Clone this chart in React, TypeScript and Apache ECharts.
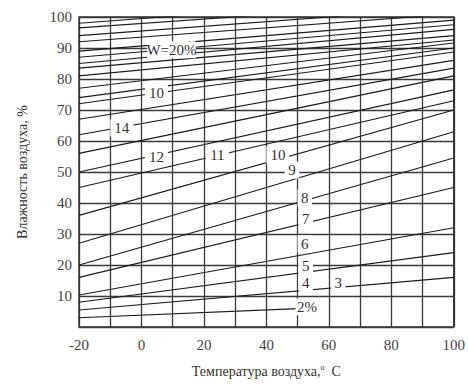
import React, { useEffect, useRef } from "react";
import * as echarts from "echarts";

// Equilibrium moisture lines: humidity (%) at -20 °C (left edge) and at 100 °C (right edge)
const lineNames = ["2", "3", "4", "5", "6", "7", "8", "9", "10", "11", "12", "13", "14", "15", "16", "17", "18", "19", "20", "21", "22", "23", "24", "25", "26"];
const leftHum = [3, 5.5, 8, 10.3, 16, 20, 27, 36, 45, 50, 56, 62, 67, 72, 74, 77, 81, 83.5, 85, 87, 89, 92, 94, 96.5, 98];
const rightHum = [8, 16, 24, 32, 45, 54.5, 63, 70, 73, 76.5, 81, 83.5, 86, 88.7, 90, 91.6, 92.6, 94, 96, 97.5, 99, 101, 103, 105, 107];
const rightTemp = [50, 100, 100, 100, 100, 100, 100, 100, 100, 100, 100, 100, 100, 100, 100, 100, 100, 100, 100, 100, 100, 100, 100, 100, 100];
const startTemp = -20;

// Line labels as printed on the chart
const labelText = ["2%", "3", "4", "5", "6", "7", "8", "9", "10", "11", "12", "14", "10", "W=20%"];
const labelTemp = [53, 63, 52.6, 52.6, 52.3, 52.6, 52.3, 48.2, 43.7, 24.3, 4.8, -6.3, 4.8, 9.6];
const labelHum = [6.5, 14.2, 14.2, 19.7, 26.8, 34.8, 41.6, 50.6, 55.5, 55.5, 54.8, 64.2, 75.5, 89.4];

const xMin = -20;
const xMax = 100;
const yMin = 0;
const yMax = 100;

const FONT = "Liberation Serif";

export default function App() {
  const ref = useRef<HTMLDivElement>(null);

  useEffect(() => {
    if (!ref.current) return;
    const chart = echarts.init(ref.current, undefined, { renderer: "svg" });

    const lineSeries = lineNames.map((n, i) => {
      const endT = rightTemp[i];
      const endH = leftHum[i] + ((rightHum[i] - leftHum[i]) * (endT - startTemp)) / (xMax - startTemp);
      return {
        type: "line",
        name: "W" + n,
        data: [
          [startTemp, leftHum[i]],
          [endT, endH],
        ],
        symbol: "none",
        clip: true,
        silent: true,
        z: 2,
        lineStyle: { color: "#1a1a1a", width: 1.1 },
      };
    });

    const labelSeries = {
      type: "scatter",
      name: "labels",
      z: 10,
      symbol: "rect",
      silent: true,
      clip: false,
      data: labelText.map((t, i) => ({
        name: t,
        value: [labelTemp[i], labelHum[i]],
        symbolSize: [t.length * 8.5 + 6, 17],
      })),
      itemStyle: { color: "#ffffff", opacity: 1 },
      label: {
        show: true,
        position: "inside",
        formatter: (p: any) => p.name,
        fontFamily: FONT,
        fontSize: 15,
        color: "#333",
      },
    };

    chart.setOption({
      animation: false,
      backgroundColor: "#fff",
      grid: {
        left: 79,
        right: 12,
        top: 17,
        bottom: 58,
        show: true,
        borderColor: "#333",
        borderWidth: 1.5,
        backgroundColor: "transparent",
      },
      xAxis: {
        type: "value",
        min: xMin,
        max: xMax,
        interval: 10,
        name: "Температура воздуха,{sup|о}  C",
        nameLocation: "middle",
        nameGap: 36,
        nameTextStyle: {
          fontFamily: FONT,
          fontSize: 14,
          color: "#333",
          rich: {
            sup: { fontFamily: FONT, fontSize: 8, color: "#333", verticalAlign: "top", padding: [0, 0, 8, 0] },
          },
        },
        axisLine: { show: false },
        axisTick: { show: false },
        axisLabel: {
          fontFamily: FONT,
          fontSize: 15,
          color: "#444",
          margin: 10,
          formatter: (v: number) => (v % 20 === 0 ? String(v) : ""),
        },
        splitLine: { show: true, lineStyle: { color: "#3a3a3a", width: 1.3 } },
      },
      yAxis: {
        type: "value",
        min: yMin,
        max: yMax,
        interval: 10,
        name: "Влажность воздуха, %",
        nameLocation: "middle",
        nameGap: 50,
        nameRotate: 90,
        nameTextStyle: { fontFamily: FONT, fontSize: 14, color: "#333" },
        axisLine: { show: false },
        axisTick: { show: false },
        axisLabel: {
          fontFamily: FONT,
          fontSize: 15,
          color: "#444",
          margin: 7,
          formatter: (v: number) => (v === 0 ? "" : String(v)),
        },
        splitLine: { show: true, lineStyle: { color: "#3a3a3a", width: 1.3 } },
      },
      series: [...lineSeries, labelSeries],
    });

    return () => chart.dispose();
  }, []);

  return (
    <div
      ref={ref}
      style={{ position: "fixed", left: 0, top: 0, width: 468, height: 385, background: "#fff" }}
    />
  );
}
